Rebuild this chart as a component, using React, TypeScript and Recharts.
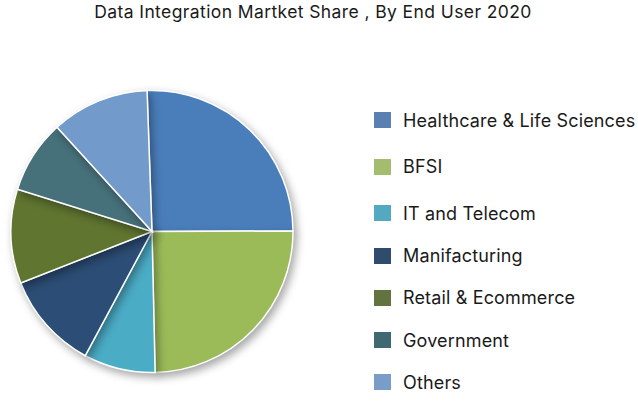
import React from 'react';
import { PieChart, Pie, Cell, Legend } from 'recharts';

const categories = [
  'Healthcare & Life Sciences',
  'BFSI',
  'IT and Telecom',
  'Manifacturing',
  'Retail & Ecommerce',
  'Government',
  'Others',
];
const shares = [25.5, 24.7, 8.2, 11.2, 10.8, 8.4, 11.2];
const colors = ['#4a7ebb', '#9bbb59', '#4bacc6', '#2c4d75', '#5f7530', '#46707a', '#729aca'];
const legendColors = ['#5a80b2', '#a4bc6e', '#53aac0', '#2f4b6e', '#617440', '#3f6870', '#7a9cc8'];
const legendTops = [0, 46.7, 93.3, 135.6, 177.6, 220, 262.3];

const data = categories.map((name, i) => ({ name, value: shares[i] }));

const FONT = 'Inter, "Open Sans", sans-serif';

const renderLegend = () => (
  <div style={{ fontFamily: FONT, position: 'relative', width: 264, height: 290 }}>
    {categories.map((c, i) => (
      <div
        key={c}
        style={{ position: 'absolute', left: 0, top: legendTops[i], display: 'flex', alignItems: 'center', height: 16 }}
      >
        <div style={{ width: 17, height: 16, background: legendColors[i], marginRight: 12 }} />
        <span style={{ fontSize: 18, color: '#1a1a1a', letterSpacing: 0.15, whiteSpace: 'nowrap' }}>{c}</span>
      </div>
    ))}
  </div>
);

export default function App() {
  return (
    <div style={{ position: 'absolute', left: 0, top: 0, width: 638, height: 402, background: '#fff' }}>
      <div
        style={{
          position: 'absolute',
          left: 0,
          top: 0,
          width: 626,
          textAlign: 'center',
          fontFamily: FONT,
          fontSize: 17.5,
          letterSpacing: 0.4,
          color: '#1a1a1a',
          lineHeight: '24px',
        }}
      >
        Data Integration Martket Share , By End User 2020
      </div>
      <PieChart width={638} height={402} margin={{ top: 0, right: 0, bottom: 0, left: 0 }}>
        <Pie
          data={data}
          dataKey="value"
          nameKey="name"
          cx={152}
          cy={231.5}
          outerRadius={141}
          startAngle={92}
          endAngle={-268}
          stroke="#ffffff"
          strokeWidth={1.5}
          isAnimationActive={false}
        >
          {data.map((d, i) => (
            <Cell
              key={d.name}
              fill={colors[i]}
              style={{ filter: 'drop-shadow(3px 4px 4px rgba(0,0,0,0.35))' }}
            />
          ))}
        </Pie>
        <Legend
          layout="vertical"
          content={renderLegend}
          wrapperStyle={{ left: 374, top: 112, width: 264 }}
        />
      </PieChart>
    </div>
  );
}
